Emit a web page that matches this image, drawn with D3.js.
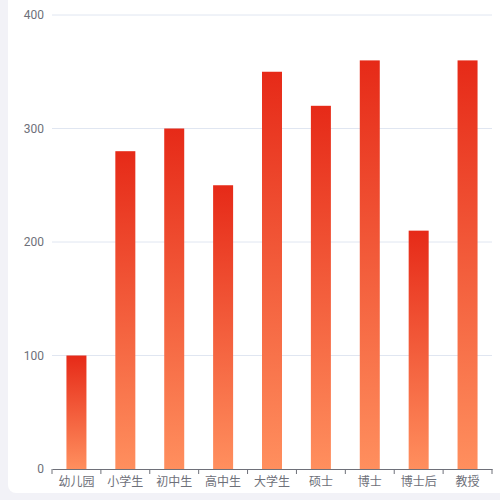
<!DOCTYPE html>
<html>
<head>
<meta charset="utf-8">
<script src="https://cdn.jsdelivr.net/npm/d3@7"></script>
<style>
  body { margin: 0; background: #f2f2f7; }
  #chart { position: absolute; left: 8px; top: -10px; width: 510px; height: 503px; background: #fff; border-radius: 8px; }
  svg { position: absolute; left: 0; top: 0; }
</style>
</head>
<body>
<div id="chart"></div>
<svg id="plot" width="500" height="500"></svg>
<script>
var categories = ["幼儿园", "小学生", "初中生", "高中生", "大学生", "硕士", "博士", "博士后", "教授"];
var values = [100, 280, 300, 250, 350, 320, 360, 210, 360];
var yTicks = [0, 100, 200, 300, 400];

var margin = { top: 15, right: 8, bottom: 31, left: 52 },
  width = 500 - margin.left - margin.right,
  height = 500 - margin.top - margin.bottom;

var svg = d3.select("#plot")
  .append("g")
  .attr("transform", "translate(" + margin.left + "," + margin.top + ")");

var defs = d3.select("#plot").append("defs");
var grad = defs.append("linearGradient")
  .attr("id", "barGrad")
  .attr("x1", 0).attr("y1", 0).attr("x2", 0).attr("y2", 1);
grad.append("stop").attr("offset", "0%").attr("stop-color", "#e62a18");
grad.append("stop").attr("offset", "100%").attr("stop-color", "#ff8f5e");

var x = d3.scaleBand().domain(categories).range([0, width]);
var y = d3.scaleLinear().domain([0, 400]).range([height, 0]);

// grid lines
svg.selectAll(".grid")
  .data(yTicks.filter(d => d > 0))
  .join("line")
  .attr("x1", 0).attr("x2", width)
  .attr("y1", d => y(d)).attr("y2", d => y(d))
  .style("stroke", "#e0e6f1");

// y labels
svg.selectAll(".ylab")
  .data(yTicks)
  .join("text")
  .attr("x", -8)
  .attr("y", d => y(d))
  .attr("dy", "0.35em")
  .style("text-anchor", "end")
  .style("font-family", "Roboto, 'Noto Sans CJK SC', sans-serif")
  .style("font-size", "12px")
  .style("fill", "#6e7079")
  .text(d => d);

// bars
var barW = 20;
svg.selectAll(".bar")
  .data(values)
  .join("rect")
  .attr("x", (d, i) => x(categories[i]) + x.bandwidth() / 2 - barW / 2)
  .attr("y", d => y(d))
  .attr("width", barW)
  .attr("height", d => height - y(d))
  .style("fill", "url(#barGrad)");

// x axis
var xAxis = svg.append("g")
  .attr("transform", "translate(0," + height + ")")
  .call(d3.axisBottom(x).tickSize(5).tickSizeOuter(0).tickFormat(d => d));
xAxis.select(".domain").style("stroke", "#6e7079");
xAxis.selectAll(".tick line").remove();
var edges = d3.range(categories.length + 1).map(i => i * x.step());
xAxis.selectAll(".edge")
  .data(edges)
  .join("line")
  .attr("x1", d => d).attr("x2", d => d)
  .attr("y1", 0).attr("y2", 5)
  .style("stroke", "#6e7079");
xAxis.selectAll(".tick text")
  .attr("y", 8)
  .style("font-family", "'Noto Sans CJK SC', sans-serif")
  .style("font-size", "12px")
  .style("fill", "#6e7079");
</script>
</body>
</html>
